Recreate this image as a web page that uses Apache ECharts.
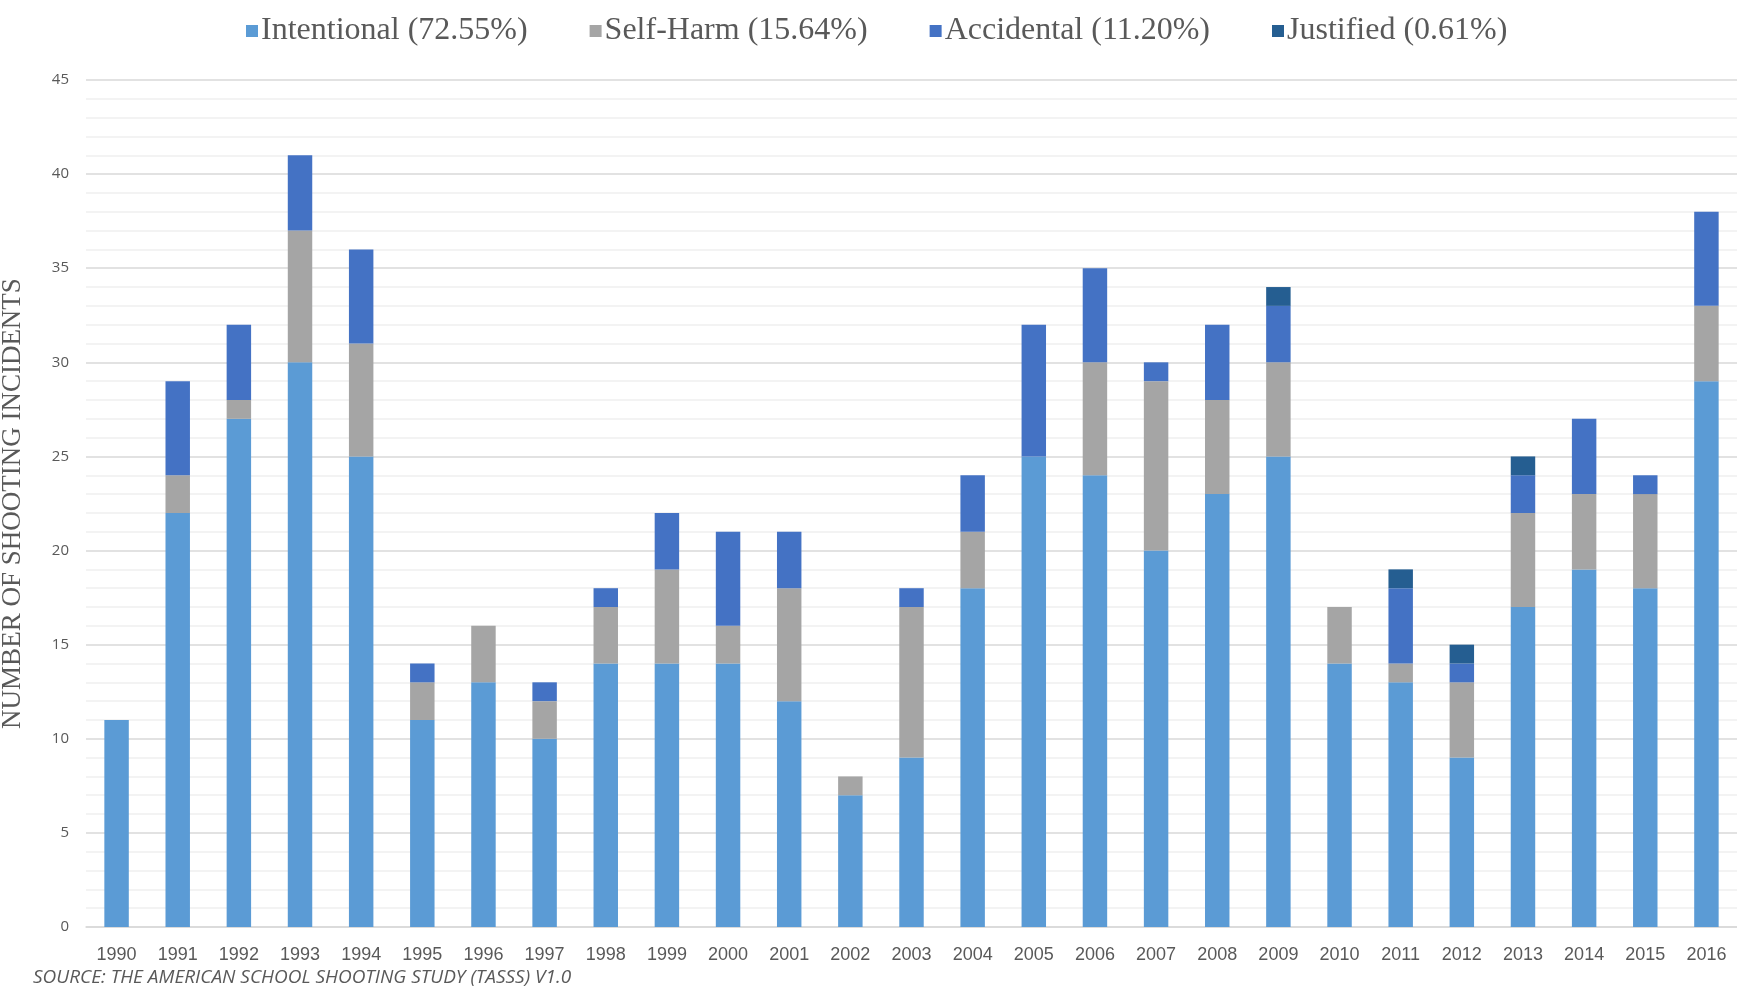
<!DOCTYPE html>
<html>
<head>
<meta charset="utf-8">
<title>School shootings by type</title>
<script src="https://cdn.jsdelivr.net/npm/echarts@6/dist/echarts.min.js"></script>
<style>
    html, body {margin: 0; padding: 0; background: #fff;}
    #chart {width: 1737px; height: 990px;}
</style>
</head>
<body>
<div id="chart"></div>
<script>
const years = ['1990', '1991', '1992', '1993', '1994', '1995', '1996', '1997', '1998', '1999',
    '2000', '2001', '2002', '2003', '2004', '2005', '2006', '2007', '2008', '2009',
    '2010', '2011', '2012', '2013', '2014', '2015', '2016']

const intentional = [11, 22, 27, 30, 25, 11, 13, 10, 14, 14, 14, 12, 7, 9, 18, 25, 24, 20, 23, 25, 14, 13, 9, 17, 19, 18, 29]
const selfHarm = [0, 2, 1, 7, 6, 2, 3, 2, 3, 5, 2, 6, 1, 8, 3, 0, 6, 9, 5, 5, 3, 1, 4, 5, 4, 5, 4]
const accidental = [0, 5, 4, 4, 5, 1, 0, 1, 1, 3, 5, 3, 0, 1, 3, 7, 5, 1, 4, 3, 0, 4, 1, 2, 4, 1, 5]
const justified = [0, 0, 0, 0, 0, 0, 0, 0, 0, 0, 0, 0, 0, 0, 0, 0, 0, 0, 0, 1, 0, 1, 1, 1, 0, 0, 0]

const seriesNames = ['Intentional (72.55%)', 'Self-Harm (15.64%)', 'Accidental (11.20%)', 'Justified (0.61%)']
const seriesColors = ['#5b9bd5', '#a5a5a5', '#4472c4', '#255e91']
const seriesData = [intentional, selfHarm, accidental, justified]

const textColor = '#595959'

const chart = echarts.init(document.getElementById('chart'))

const series = seriesData.map((data, i) => ({
    name: seriesNames[i],
    type: 'bar',
    stack: 'total',
    barWidth: '40%',
    data: data,
    itemStyle: {color: seriesColors[i]}
}))

chart.setOption({
    animation: false,
    legend: {
        top: 10,
        left: 241,
        itemWidth: 12,
        itemHeight: 12,
        itemGap: 62,
        icon: 'rect',
        textStyle: {fontFamily: 'Liberation Serif', fontSize: 32, color: textColor, padding: [0, 0, 0, -2]},
        data: seriesNames
    },
    grid: {left: 86, right: 0, top: 80, bottom: 63, containLabel: false, outerBoundsMode: 'none'},
    xAxis: {
        type: 'category',
        data: years,
        axisTick: {show: false},
        axisLine: {lineStyle: {color: '#d9d9d9', width: 1.5}},
        axisLabel: {fontFamily: 'Liberation Sans', fontSize: 18, color: textColor, margin: 19}
    },
    yAxis: {
        type: 'value',
        min: 0,
        max: 45,
        interval: 5,
        name: 'NUMBER OF SHOOTING INCIDENTS',
        nameLocation: 'middle',
        nameGap: 60,
        nameTextStyle: {fontFamily: 'Liberation Serif', fontSize: 27, color: textColor},
        axisLabel: {fontFamily: 'Open Sans', fontSize: 15, color: textColor, margin: 17},
        splitLine: {lineStyle: {color: '#d9d9d9', width: 1.5}},
        minorTick: {show: false, splitNumber: 5},
        minorSplitLine: {show: true, lineStyle: {color: '#f0f0f0', width: 1.5}}
    },
    graphic: [{
        type: 'text',
        left: 33,
        top: 968,
        style: {
            text: 'SOURCE: THE AMERICAN SCHOOL SHOOTING STUDY (TASSS) V1.0',
            fontFamily: 'Open Sans',
            fontStyle: 'italic',
            fontSize: 19,
            fill: textColor
        }
    }],
    series: series
})
</script>
</body>
</html>
